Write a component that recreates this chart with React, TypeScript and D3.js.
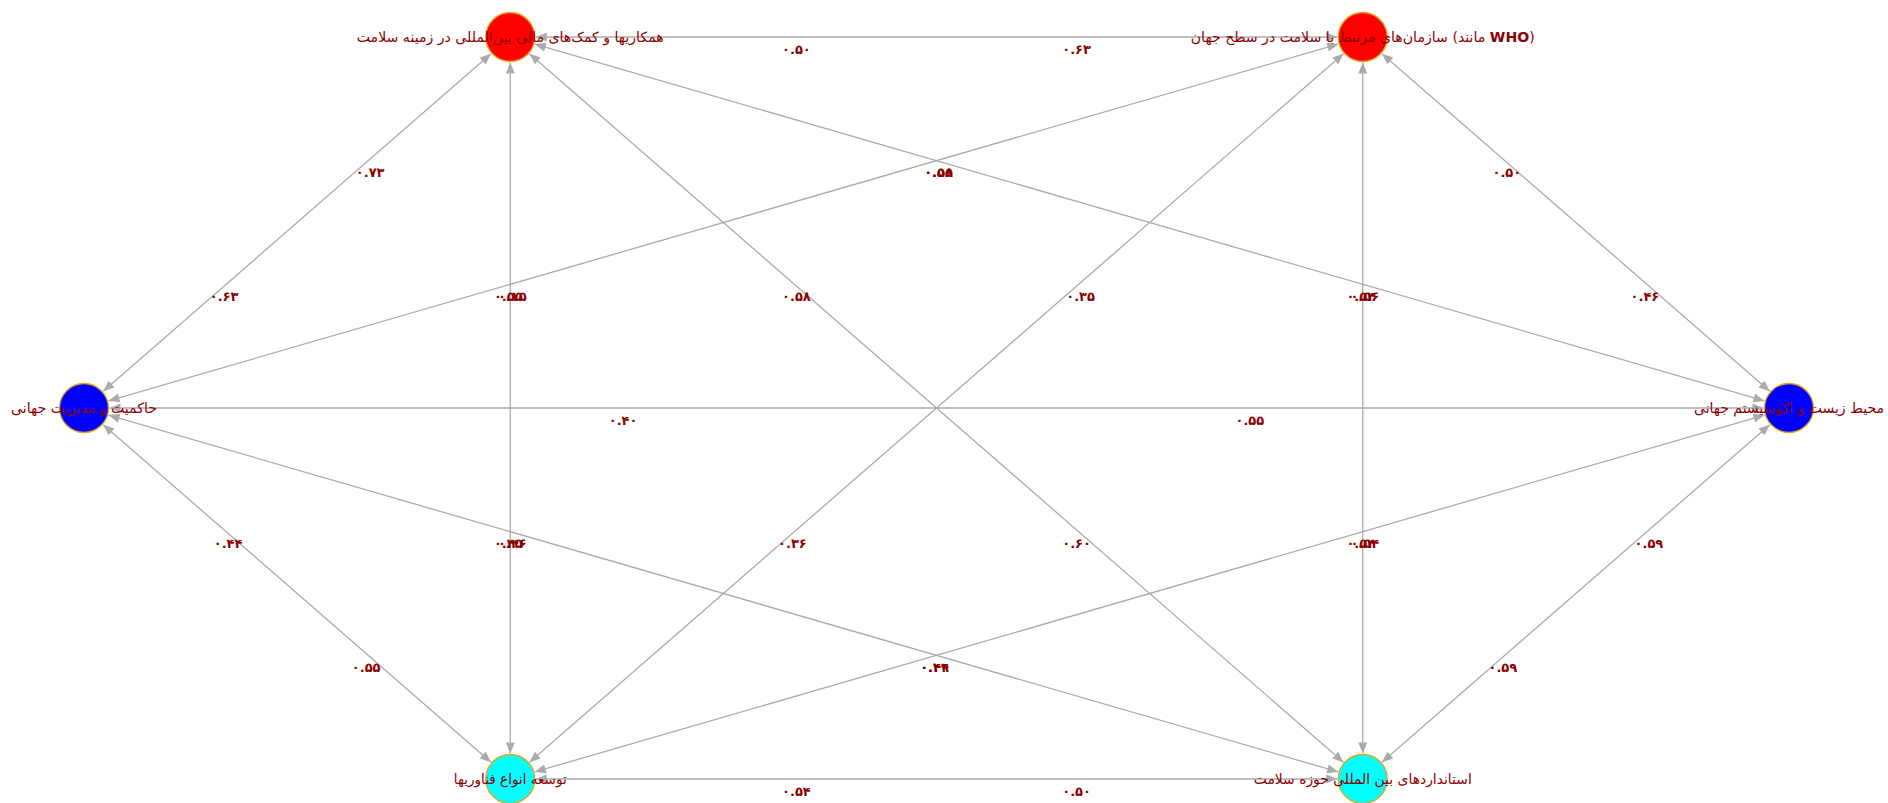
import React from "react";
import * as d3 from "d3";

const W = 1888;
const H = 803;

// Nodes
const nodeNames = [
  "همکاریها و کمک‌های مالی بین‌المللی در زمینه سلامت",
  "سازمان‌های مرتبط با سلامت در سطح جهان (مانند WHO)",
  "حاکمیت و مدیریت جهانی",
  "محیط زیست و اکوسیستم جهانی",
  "توسعه انواع فناوریها",
  "استانداردهای بین المللی حوزه سلامت",
];
const nodeLayoutX = [1, 3, 0, 4, 1, 3];
const nodeLayoutY = [0, 0, 1, 1, 2, 2];
const nodeColors = ["#FF0000", "#FF0000", "#0000FF", "#0000FF", "#00FFFF", "#00FFFF"];
const nodeLabelWidths = [307, 344, 146, 190, 113, 218];

// Directed edges: source, target, weight (label drawn near the source)
const edgeSources = [0, 1, 0, 2, 1, 3, 2, 4, 3, 5, 4, 5, 2, 3, 0, 5, 1, 4, 0, 4, 0, 3, 1, 2, 1, 5, 4, 3, 5, 2];
const edgeTargets = [1, 0, 2, 0, 3, 1, 4, 2, 5, 3, 5, 4, 3, 2, 5, 0, 4, 1, 4, 0, 3, 0, 2, 1, 5, 1, 3, 4, 2, 5];
const edgeWeights = [
  0.5, 0.63, 0.73, 0.63, 0.5, 0.46, 0.44, 0.55, 0.59, 0.59, 0.54, 0.5, 0.4, 0.55, 0.58, 0.6, 0.35, 0.36,
  0.15, 0.45, 0.55, 0.54, 0.58, 0.55, 0.56, 0.54, 0.49, 0.54, 0.44, 0.46,
];

const toPersianDigits = (s: string) => s.replace(/[0-9]/g, (d) => "۰۱۲۳۴۵۶۷۸۹"[+d]);
const fmt = d3.format(".2f");

export default function App() {
  const x = d3.scaleLinear().domain([0, 4]).range([84, 1789]);
  const y = d3.scaleLinear().domain([0, 2]).range([37, 779]);
  const r = 24.5;
  const arrowLen = 11;
  const arrowHalf = 4.5;
  const edgeColor = "#ABABAB";
  const textColor = "#8B0000";

  const nodes = nodeNames.map((name, i) => ({
    name,
    x: x(nodeLayoutX[i]),
    y: y(nodeLayoutY[i]),
    color: nodeColors[i],
    w: nodeLabelWidths[i],
  }));

  const edges = edgeSources.map((s, i) => ({ s, t: edgeTargets[i], w: edgeWeights[i] }));

  const pairs: [number, number][] = [];
  edges.forEach((e) => {
    const a = Math.min(e.s, e.t);
    const b = Math.max(e.s, e.t);
    if (!pairs.some((p) => p[0] === a && p[1] === b)) pairs.push([a, b]);
  });

  const arrowPath = (from: number, to: number) => {
    const A = nodes[from];
    const B = nodes[to];
    const dx = B.x - A.x;
    const dy = B.y - A.y;
    const L = Math.hypot(dx, dy);
    const ux = dx / L;
    const uy = dy / L;
    const tipX = B.x - ux * (r + 1);
    const tipY = B.y - uy * (r + 1);
    const bx = tipX - ux * arrowLen;
    const by = tipY - uy * arrowLen;
    const p = d3.path();
    p.moveTo(tipX, tipY);
    p.lineTo(bx - uy * arrowHalf, by + ux * arrowHalf);
    p.lineTo(bx + uy * arrowHalf, by - ux * arrowHalf);
    p.closePath();
    return p.toString();
  };

  return (
    <svg
      width={W}
      height={H}
      style={{ position: "absolute", left: 0, top: 0, background: "#FFFFFF" }}
      fontFamily="'DejaVu Sans', sans-serif"
    >
      <rect x={0} y={0} width={W} height={H} fill="#FFFFFF" />
      {pairs.map(([a, b], i) => {
        const A = nodes[a];
        const B = nodes[b];
        const dx = B.x - A.x;
        const dy = B.y - A.y;
        const L = Math.hypot(dx, dy);
        const ux = dx / L;
        const uy = dy / L;
        return (
          <line
            key={"l" + i}
            x1={A.x + ux * (r + 1)}
            y1={A.y + uy * (r + 1)}
            x2={B.x - ux * (r + 1)}
            y2={B.y - uy * (r + 1)}
            stroke={edgeColor}
            strokeWidth={1.3}
          />
        );
      })}
      {edges.map((e, i) => (
        <path key={"a" + i} d={arrowPath(e.s, e.t)} fill={edgeColor} />
      ))}
      {edges.map((e, i) => {
        const A = nodes[e.s];
        const B = nodes[e.t];
        const L = Math.hypot(B.x - A.x, B.y - A.y);
        const t = 1 / 3 - Math.max(0, L - 1400) * 0.00006;
        const px = A.x + (B.x - A.x) * t;
        const py = A.y + (B.y - A.y) * t;
        return (
          <text
            key={"w" + i}
            x={px + (e.s < e.t ? 2 : -2)}
            y={py + 12}
            textAnchor="middle"
            dominantBaseline="central"
            fontSize={13}
            fontWeight="bold"
            fill={textColor}
            direction="ltr"
          >
            {toPersianDigits(fmt(e.w))}
          </text>
        );
      })}
      {nodes.map((n, i) => (
        <circle key={"c" + i} cx={n.x} cy={n.y} r={r} fill={n.color} stroke="#E8A317" strokeWidth={1.3} />
      ))}
      {nodes.map((n, i) => {
        const parts = n.name.split("WHO");
        return (
          <text
            key={"t" + i}
            x={n.x}
            y={n.y}
            textAnchor="middle"
            dominantBaseline="central"
            fontSize={14}
            fill={textColor}
            textLength={n.w}
            lengthAdjust="spacingAndGlyphs"
          >
            {parts.length > 1 ? (
              <>
                {parts[0]}
                <tspan fontWeight="bold">WHO</tspan>
                {parts[1]}
              </>
            ) : (
              n.name
            )}
          </text>
        );
      })}
    </svg>
  );
}
